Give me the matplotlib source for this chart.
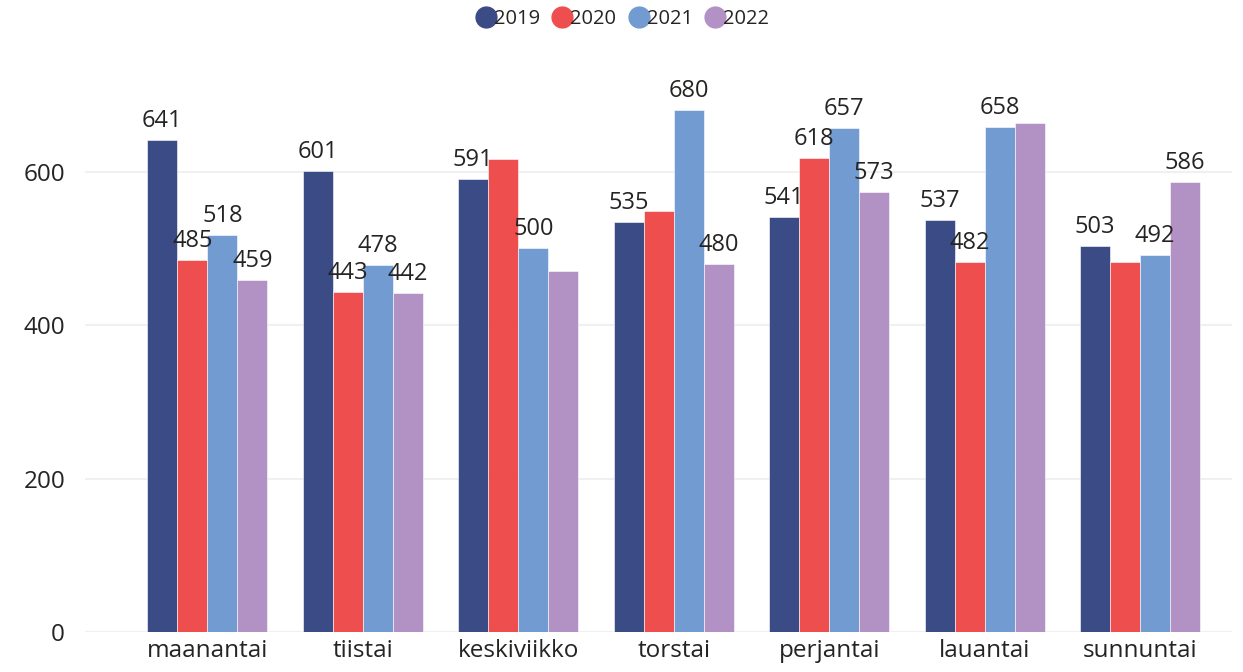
import matplotlib.pyplot as plt
from matplotlib.lines import Line2D
import numpy as np

plt.rcParams['font.family'] = ['Open Sans', 'DejaVu Sans']

# Viikonpäivät ja vuosittaiset arvot
days = ["maanantai", "tiistai", "keskiviikko", "torstai", "perjantai", "lauantai", "sunnuntai"]
years = ["2019", "2020", "2021", "2022"]
v2019 = [641, 601, 591, 535, 541, 537, 503]
v2020 = [485, 443, 617, 549, 618, 482, 482]
v2021 = [518, 478, 500, 680, 657, 658, 492]
v2022 = [459, 442, 470, 480, 573, 663, 586]
# Power BI piilottaa päällekkäiset tunnisteet -> näytetäänkö arvo
show2019 = [True, True, True, True, True, True, True]
show2020 = [True, True, False, False, True, True, False]
show2021 = [True, True, True, True, True, True, True]
show2022 = [True, True, False, True, True, False, True]

colors = ["#3a4b85", "#ef4e4e", "#729bd1", "#b291c4"]

fig = plt.figure(figsize=(12.43, 6.72), dpi=100)
ax = fig.add_axes([0.068, 0.0595, 0.923, 0.822])

x = np.arange(len(days))
width = 0.193
series = [v2019, v2020, v2021, v2022]
shows = [show2019, show2020, show2021, show2022]
for k, (vals, show) in enumerate(zip(series, shows)):
    pos = x + (k - 1.5) * width
    ax.bar(pos, vals, width=width, color=colors[k], edgecolor="white", linewidth=0.4, zorder=3)
    for px, v, s in zip(pos, vals, show):
        if s:
            ax.annotate(str(v), (px, v), xytext=(0, 5), textcoords="offset points",
                        ha="center", va="bottom", fontsize=17, color="#252423", zorder=4)

ax.set_xlim(-0.79, 6.59)
ax.set_ylim(0, 720)
ax.set_yticks([0, 200, 400, 600])
ax.set_xticks(x)
ax.set_xticklabels(days)
ax.tick_params(axis="both", length=0, labelsize=17.5, colors="#252423")
ax.tick_params(axis="y", pad=14)
ax.tick_params(axis="x", pad=5)
ax.grid(True, axis="y", color="#f0f0f0", linewidth=1.5, zorder=0)
for sp in ax.spines.values():
    sp.set_visible(False)

handles = [Line2D([], [], marker="o", linestyle="", markersize=15, color=c) for c in colors]
fig.legend(handles, years, loc="center", bbox_to_anchor=(0.5, 0.972), ncol=4, frameon=False,
           fontsize=14.5, handletextpad=-0.2, columnspacing=0.5, handlelength=1.2,
           labelcolor="#252423")

plt.savefig("out.png", dpi=100)
